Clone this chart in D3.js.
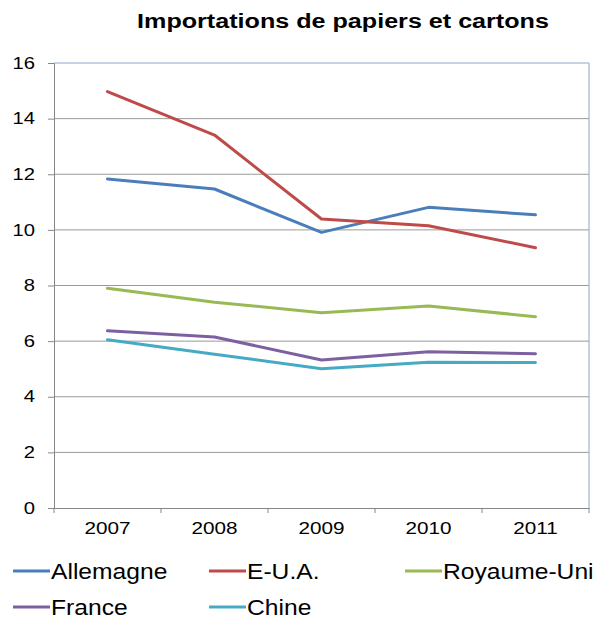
<!DOCTYPE html>
<html><head><meta charset="utf-8">
<script src="https://cdn.jsdelivr.net/npm/d3@7"></script>
<style>body{margin:0;background:#fff}svg{display:block;font-family:"Liberation Sans",Arial,sans-serif}</style>
</head><body>
<script>
const title = "Importations de papiers et cartons";
const years = ["2007","2008","2009","2010","2011"];
const seriesNames = ["Allemagne","E-U.A.","Royaume-Uni","France","Chine"];
const allemagne = [11.83, 11.47, 9.91, 10.81, 10.54];
const eua = [14.97, 13.41, 10.39, 10.15, 9.36];
const royaumeUni = [7.90, 7.40, 7.02, 7.26, 6.88];
const france = [6.37, 6.15, 5.32, 5.62, 5.55];
const chine = [6.05, 5.53, 5.01, 5.24, 5.23];
const yTicks = [0,2,4,6,8,10,12,14,16];
const colors = ["#4A7EBB","#BE4B48","#98B954","#7D60A0","#46AAC5"];

const series = [allemagne, eua, royaumeUni, france, chine].map((v,i)=>({name:seriesNames[i], values:v, color:colors[i]}));

const W=595,H=619;
const svg=d3.select("body").append("svg").attr("width",W).attr("height",H);
const L=54,R=589,T=63,B=508;
const x=d3.scaleBand().domain(years).range([L,R]);
const y=d3.scaleLinear().domain([0,16]).range([B,T]);

// horizontal stretch of text about its anchor x
function stretch(sel,k){
  sel.each(function(){
    const ax=+(this.getAttribute("x")||0);
    this.setAttribute("transform",`translate(${ax*(1-k)},0) scale(${k},1)`);
  });
}

// gridlines
svg.append("g").selectAll("line").data(yTicks.filter(d=>d>0)).join("line")
  .attr("x1",L).attr("x2",R).attr("y1",d=>y(d)).attr("y2",d=>y(d))
  .attr("stroke",d=>d===16?"#8EA6C9":"#9a9a9a").attr("stroke-width",1);
svg.append("line").attr("x1",R).attr("x2",R).attr("y1",T).attr("y2",B).attr("stroke","#8EA6C9");

// y axis
const ya=svg.append("g").attr("transform",`translate(${L},0)`)
  .call(d3.axisLeft(y).tickValues(yTicks).tickSize(6).tickPadding(13).tickFormat(d3.format("d")));
ya.select(".domain").attr("stroke","#878787");
ya.selectAll(".tick line").attr("stroke","#878787");
ya.selectAll("text").attr("font-size","16.3px").attr("fill","#000").attr("font-family","Liberation Sans, Arial, sans-serif").call(stretch,1.24);

// x axis
const xa=svg.append("g").attr("transform",`translate(0,${B})`)
  .call(d3.axisBottom(x).tickSize(0).tickPadding(14));
xa.select(".domain").attr("stroke","#878787");
xa.selectAll("text").attr("font-size","16.3px").attr("fill","#000").attr("font-family","Liberation Sans, Arial, sans-serif").call(stretch,1.27);
const bounds=years.map(d=>x(d)).concat([R]);
xa.append("g").selectAll("line").data(bounds).join("line")
  .attr("x1",d=>d).attr("x2",d=>d).attr("y1",0).attr("y2",5).attr("stroke","#878787");

// lines
const line=d3.line().x((d,i)=>x(years[i])+x.bandwidth()/2).y(d=>y(d));
svg.append("g").selectAll("path").data(series).join("path")
  .attr("d",d=>line(d.values)).attr("fill","none").attr("stroke",d=>d.color)
  .attr("stroke-width",3).attr("stroke-linejoin","round").attr("stroke-linecap","round");

// title, fitted to the reference width
const tt=svg.append("text").attr("x",343).attr("y",28).attr("text-anchor","middle")
  .attr("font-size","19.5px").attr("font-weight","bold").text(title);
const tw=tt.node().getComputedTextLength();
tt.call(stretch,412/tw);

// legend
const legPos=[[13,571],[209,571],[405,571],[13,607],[209,607]];
const lg=svg.append("g").selectAll("g").data(series).join("g")
  .attr("transform",(d,i)=>`translate(${legPos[i][0]},${legPos[i][1]})`);
lg.append("line").attr("x1",0).attr("x2",37).attr("y1",0).attr("y2",0).attr("stroke",d=>d.color).attr("stroke-width",3);
lg.append("text").attr("x",38).attr("y",8).attr("font-size","22px").text(d=>d.name).call(stretch,1.12);
</script>
</body></html>
